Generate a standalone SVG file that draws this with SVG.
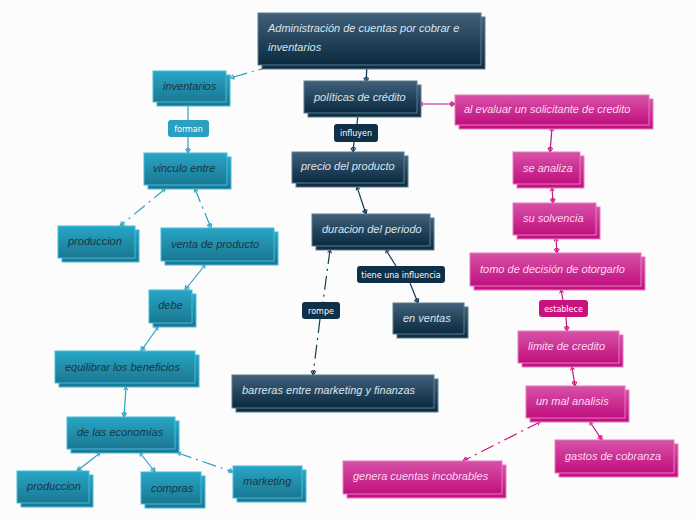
<svg xmlns="http://www.w3.org/2000/svg" width="696" height="520" viewBox="0 0 696 520">
<defs>
<linearGradient id="gNavy" x1="0" y1="0" x2="0" y2="1"><stop offset="0" stop-color="#41607a"/><stop offset="1" stop-color="#0a2a40"/></linearGradient>
<linearGradient id="gTeal" x1="0" y1="0" x2="0" y2="1"><stop offset="0" stop-color="#28a6c6"/><stop offset="1" stop-color="#1a7791"/></linearGradient>
<linearGradient id="gMag" x1="0" y1="0" x2="0" y2="1"><stop offset="0" stop-color="#d752a8"/><stop offset="1" stop-color="#c10f7e"/></linearGradient>
<marker id="eN" markerWidth="12" markerHeight="10" refX="5" refY="5" orient="auto" markerUnits="userSpaceOnUse" viewBox="0 0 12 10"><path d="M1,2.5 L5,5 L1,7.5 M-2,2.5 L2,5 L-2,7.5" fill="none" stroke="#123a52" stroke-width="1.1"/></marker>
<marker id="sN" markerWidth="8" markerHeight="8" refX="4" refY="4" orient="auto-start-reverse" markerUnits="userSpaceOnUse" viewBox="0 0 8 8"><path d="M1,2 L4,4 L1,6" fill="none" stroke="#123a52" stroke-width="1"/></marker>
<marker id="eT" markerWidth="12" markerHeight="10" refX="5" refY="5" orient="auto" markerUnits="userSpaceOnUse" viewBox="0 0 12 10"><path d="M1,2.5 L5,5 L1,7.5 M-2,2.5 L2,5 L-2,7.5" fill="none" stroke="#2a9fc0" stroke-width="1.1"/></marker>
<marker id="sT" markerWidth="8" markerHeight="8" refX="4" refY="4" orient="auto-start-reverse" markerUnits="userSpaceOnUse" viewBox="0 0 8 8"><path d="M1,2 L4,4 L1,6" fill="none" stroke="#2a9fc0" stroke-width="1"/></marker>
<marker id="eM" markerWidth="12" markerHeight="10" refX="5" refY="5" orient="auto" markerUnits="userSpaceOnUse" viewBox="0 0 12 10"><path d="M1,2.5 L5,5 L1,7.5 M-2,2.5 L2,5 L-2,7.5" fill="none" stroke="#c8137e" stroke-width="1.1"/></marker>
<marker id="sM" markerWidth="8" markerHeight="8" refX="4" refY="4" orient="auto-start-reverse" markerUnits="userSpaceOnUse" viewBox="0 0 8 8"><path d="M1,2 L4,4 L1,6" fill="none" stroke="#c8137e" stroke-width="1"/></marker>
</defs>
<style>
.navy rect{fill:url(#gNavy);stroke:#5c7d92;stroke-width:1}
.teal rect{fill:url(#gTeal);stroke:#45bcd8;stroke-width:1}
.mag rect{fill:url(#gMag);stroke:#e47cc0;stroke-width:1}
.navy text{fill:#dbe4ec}
.teal text{fill:#1b3644}
.mag text{fill:#f9d8ee}
text{font-family:"Liberation Sans",Arial,sans-serif;font-style:italic;font-size:11px}
.lbl text{font-family:"DejaVu Sans",sans-serif;font-style:normal;font-size:8px;fill:#ffffff;text-anchor:middle}
.lbl.ln rect{fill:#0e3048;stroke:none}
.lbl.lt rect{fill:#2a9fc0;stroke:none}
.lbl.lm rect{fill:#c8137e;stroke:none}
.c{fill:none;stroke-width:1.2}
.cn{stroke:#123a52;marker-end:url(#eN);marker-start:url(#sN)}
.ct{stroke:#2a9fc0;marker-end:url(#eT);marker-start:url(#sT)}
.cm{stroke:#c8137e;marker-end:url(#eM);marker-start:url(#sM)}
.dd{stroke-dasharray:14,5,2,5}
</style>
<rect width="696" height="520" fill="#fcfcfd"/>
<g id="connectors">
<path class="c ct dd" d="M272,66 L230,78"/>
<path class="c cn" d="M367,66 L366,82"/>
<path class="c cn" d="M358,113 L357,124" style="marker-end:none"/>
<path class="c cn" d="M354,142 L353,152" style="marker-start:none"/>
<path class="c ct" d="M188,103 L188,120" style="marker-end:none"/>
<path class="c ct" d="M188,137 L188,153" style="marker-start:none"/>
<path class="c ct dd" d="M165,189 L120,226"/>
<path class="c ct dd" d="M195,189 L211,228"/>
<path class="c ct" d="M205,265 L185,290"/>
<path class="c ct" d="M158,327 L141,351"/>
<path class="c ct" d="M126,387 L124,417"/>
<path class="c ct" d="M100,453 L77,471"/>
<path class="c ct" d="M140,453 L155,472"/>
<path class="c ct dd" d="M178,453 L233,472"/>
<path class="c cn" d="M357,187 L366,214"/>
<path class="c cn" d="M386,250 L396,266" style="marker-end:none"/>
<path class="c cn" d="M410,283 L418,303" style="marker-start:none"/>
<path class="c cn dd" d="M330,250 L323,302" style="marker-end:none"/>
<path class="c cn dd" d="M320,319 L313,375" style="marker-start:none"/>
<path class="c cm" d="M420,104 L455,104"/>
<path class="c cm" d="M552,128 L550,152"/>
<path class="c cm" d="M552,188 L553,203"/>
<path class="c cm" d="M556,238 L557,253"/>
<path class="c cm" d="M561,290 L563,300" style="marker-end:none"/>
<path class="c cm" d="M566,317 L567,331" style="marker-start:none"/>
<path class="c cm" d="M572,367 L575,386"/>
<path class="c cm dd" d="M540,422 L463,461"/>
<path class="c cm" d="M590,422 L602,440"/>
</g>
<g id="n_admin" class="navy"><rect x="262" y="17" width="223" height="52"/><rect x="258" y="13" width="223" height="52"/><text x="268" y="32">Administración de cuentas por cobrar e</text><text x="268" y="51">inventarios</text></g>
<g id="n_inventarios" class="teal"><rect x="157" y="75" width="73" height="31"/><rect x="153" y="71" width="73" height="31"/><text x="163" y="90">inventarios</text></g>
<g id="n_politicas" class="navy"><rect x="308" y="85" width="113" height="32"/><rect x="304" y="81" width="113" height="32"/><text x="314" y="101">políticas de crédito</text></g>
<g id="n_alevaluar" class="mag"><rect x="459" y="99" width="194" height="30"/><rect x="455" y="95" width="194" height="30"/><text x="464" y="113">al evaluar un solicitante de credito</text></g>
<g id="n_seanaliza" class="mag"><rect x="517" y="156" width="67" height="32"/><rect x="513" y="152" width="67" height="32"/><text x="523" y="172">se analiza</text></g>
<g id="n_solvencia" class="mag"><rect x="517" y="207" width="83" height="32"/><rect x="513" y="203" width="83" height="32"/><text x="523" y="222">su solvencia</text></g>
<g id="n_tomo" class="mag"><rect x="474" y="257" width="171" height="33"/><rect x="470" y="253" width="171" height="33"/><text x="480" y="273">tomo de decisión de otorgarlo</text></g>
<g id="n_vinculo" class="teal"><rect x="148" y="157" width="83" height="32"/><rect x="144" y="153" width="83" height="32"/><text x="153" y="172">vinculo entre</text></g>
<g id="n_produccion1" class="teal"><rect x="62" y="230" width="77" height="32"/><rect x="58" y="226" width="77" height="32"/><text x="68" y="245">produccion</text></g>
<g id="n_venta" class="teal"><rect x="165" y="232" width="113" height="33"/><rect x="161" y="228" width="113" height="33"/><text x="171" y="248">venta de producto</text></g>
<g id="n_precio" class="navy"><rect x="296" y="156" width="112" height="31"/><rect x="292" y="152" width="112" height="31"/><text x="301" y="170">precio del producto</text></g>
<g id="n_duracion" class="navy"><rect x="316" y="218" width="118" height="32"/><rect x="312" y="214" width="118" height="32"/><text x="322" y="233">duracion del periodo</text></g>
<g id="n_enventas" class="navy"><rect x="397" y="307" width="71" height="31"/><rect x="393" y="303" width="71" height="31"/><text x="403" y="322">en ventas</text></g>
<g id="n_debe" class="teal"><rect x="153" y="294" width="43" height="33"/><rect x="149" y="290" width="43" height="33"/><text x="170.5" y="309" text-anchor="middle">debe</text></g>
<g id="n_equilibrar" class="teal"><rect x="59" y="355" width="140" height="32"/><rect x="55" y="351" width="140" height="32"/><text x="65" y="371">equilibrar los beneficios</text></g>
<g id="n_economias" class="teal"><rect x="71" y="421" width="108" height="32"/><rect x="67" y="417" width="108" height="32"/><text x="77" y="436">de las economías</text></g>
<g id="n_produccion2" class="teal"><rect x="21" y="475" width="72" height="32"/><rect x="17" y="471" width="72" height="32"/><text x="27" y="490">produccion</text></g>
<g id="n_compras" class="teal"><rect x="145" y="476" width="60" height="32"/><rect x="141" y="472" width="60" height="32"/><text x="151" y="492">compras</text></g>
<g id="n_marketing" class="teal"><rect x="237" y="470" width="69" height="32"/><rect x="233" y="466" width="69" height="32"/><text x="243" y="485">marketing</text></g>
<g id="n_barreras" class="navy"><rect x="236" y="379" width="202" height="33"/><rect x="232" y="375" width="202" height="33"/><text x="242" y="394">barreras entre marketing y finanzas</text></g>
<g id="n_limite" class="mag"><rect x="522" y="335" width="101" height="32"/><rect x="518" y="331" width="101" height="32"/><text x="528" y="350">limite de credito</text></g>
<g id="n_unmal" class="mag"><rect x="530" y="390" width="99" height="32"/><rect x="526" y="386" width="99" height="32"/><text x="536" y="405">un mal analisis</text></g>
<g id="n_gastos" class="mag"><rect x="559" y="444" width="119" height="33"/><rect x="555" y="440" width="119" height="33"/><text x="565" y="460">gastos de cobranza</text></g>
<g id="n_genera" class="mag"><rect x="347" y="465" width="159" height="33"/><rect x="343" y="461" width="159" height="33"/><text x="353" y="480">genera cuentas incobrables</text></g>
<g id="l_forman" class="lbl lt"><rect x="168" y="120" width="41" height="17" rx="3"/><text x="188.5" y="131.5">forman</text></g>
<g id="l_influyen" class="lbl ln"><rect x="334" y="124" width="44" height="18" rx="3"/><text x="356" y="136">influyen</text></g>
<g id="l_tiene" class="lbl ln"><rect x="357" y="266" width="88" height="17" rx="3"/><text x="401" y="277.5">tiene una influencia</text></g>
<g id="l_rompe" class="lbl ln"><rect x="302" y="302" width="38" height="17" rx="3"/><text x="321" y="313.5">rompe</text></g>
<g id="l_establece" class="lbl lm"><rect x="539" y="300" width="49" height="17" rx="3"/><text x="563.5" y="311.5">establece</text></g>
</svg>
